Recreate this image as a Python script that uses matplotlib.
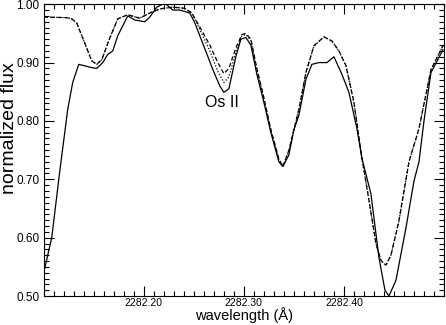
import numpy as np
import matplotlib
matplotlib.use('Agg')  # noqa
import matplotlib.pyplot as plt
from matplotlib.ticker import MultipleLocator, FormatStrFormatter

# observed spectrum (solid)
obs_wl = [2282.100, 2282.101, 2282.108, 2282.116, 2282.124, 2282.129, 2282.135,
          2282.149, 2282.153, 2282.159, 2282.164, 2282.169, 2282.174, 2282.184,
          2282.191, 2282.201, 2282.206, 2282.213, 2282.221, 2282.229, 2282.236,
          2282.246, 2282.251, 2282.263, 2282.269, 2282.276, 2282.280, 2282.285,
          2282.292, 2282.297, 2282.302, 2282.307, 2282.313, 2282.320, 2282.327,
          2282.335, 2282.339, 2282.345, 2282.350, 2282.355, 2282.362, 2282.368,
          2282.375, 2282.383, 2282.390, 2282.398, 2282.405, 2282.413, 2282.418,
          2282.427, 2282.435, 2282.441, 2282.445, 2282.452, 2282.462, 2282.470,
          2282.475, 2282.480, 2282.487, 2282.499]
obs_flux = [0.545, 0.547, 0.600, 0.713, 0.820, 0.866, 0.897,
            0.891, 0.890, 0.900, 0.914, 0.920, 0.946, 0.980,
            0.973, 0.970, 0.978, 0.995, 1.002, 0.990, 0.990,
            0.985, 0.968, 0.915, 0.888, 0.860, 0.849, 0.855,
            0.910, 0.940, 0.943, 0.930, 0.880, 0.832, 0.780,
            0.730, 0.722, 0.742, 0.785, 0.810, 0.871, 0.897,
            0.900, 0.900, 0.910, 0.880, 0.849, 0.787, 0.736,
            0.675, 0.566, 0.510, 0.500, 0.527, 0.617, 0.697,
            0.730, 0.800, 0.883, 0.922]

# synthetic spectra: without Os (dashed) and with Os (dotted)
syn_wl = [2282.100, 2282.123, 2282.128, 2282.133, 2282.139, 2282.148, 2282.153,
          2282.158, 2282.166, 2282.174, 2282.184, 2282.196, 2282.206, 2282.216,
          2282.229, 2282.241, 2282.248, 2282.253, 2282.266, 2282.274, 2282.280,
          2282.285, 2282.292, 2282.298, 2282.302, 2282.307, 2282.313, 2282.320,
          2282.327, 2282.335, 2282.339, 2282.345, 2282.355, 2282.362, 2282.370,
          2282.380, 2282.388, 2282.395, 2282.402, 2282.410, 2282.418, 2282.424,
          2282.432, 2282.437, 2282.442, 2282.447, 2282.455, 2282.465, 2282.475,
          2282.487, 2282.499]
nos_flux = [0.978, 0.977, 0.975, 0.968, 0.942, 0.903, 0.897,
            0.905, 0.942, 0.975, 0.982, 0.976, 0.985, 0.992,
            0.995, 0.993, 0.985, 0.970, 0.930, 0.900, 0.881,
            0.890, 0.925, 0.948, 0.950, 0.940, 0.890, 0.840,
            0.785, 0.735, 0.722, 0.750, 0.820, 0.883, 0.929,
            0.944, 0.937, 0.920, 0.895, 0.832, 0.736, 0.675,
            0.590, 0.561, 0.553, 0.570, 0.629, 0.730, 0.787,
            0.888, 0.929]
os_flux = [0.978, 0.977, 0.975, 0.968, 0.942, 0.903, 0.897,
           0.905, 0.942, 0.975, 0.982, 0.976, 0.985, 0.992,
           0.995, 0.993, 0.985, 0.968, 0.920, 0.885, 0.866,
           0.875, 0.918, 0.946, 0.948, 0.938, 0.888, 0.838,
           0.784, 0.734, 0.722, 0.749, 0.819, 0.882, 0.928,
           0.944, 0.937, 0.920, 0.895, 0.832, 0.736, 0.675,
           0.590, 0.561, 0.553, 0.570, 0.629, 0.730, 0.787,
           0.888, 0.929]

plt.rcParams['font.family'] = ['Liberation Sans', 'DejaVu Sans']

fig = plt.figure(figsize=(4.46, 3.25), dpi=100)
ax = fig.add_axes([0.098, 0.089, 0.8975, 0.898])

ax.plot(obs_wl, obs_flux, color='black', lw=0.9, ls='-')
ax.plot(syn_wl, nos_flux, color='black', lw=0.9, ls=(0, (3.5, 2)))
ax.plot(syn_wl, os_flux, color='black', lw=0.9, ls=(0, (1, 1.5)))

ax.text(2282.2777, 0.832, 'Os II', fontsize=11.5, ha='center', va='center')

ax.set_xlim(2282.10, 2282.50)
ax.set_ylim(0.50, 1.00)
ax.set_xticks([2282.20, 2282.30, 2282.40])
ax.xaxis.set_minor_locator(MultipleLocator(0.01))
ax.yaxis.set_major_locator(MultipleLocator(0.10))
ax.yaxis.set_minor_locator(MultipleLocator(0.01))
ax.xaxis.set_major_formatter(FormatStrFormatter('%.2f'))
ax.yaxis.set_major_formatter(FormatStrFormatter('%.2f'))
ax.tick_params(which='both', direction='in', top=True, right=True,
               labelsize=8.5, width=0.8, pad=3)
ax.tick_params(axis='x', labelsize=7.5, pad=1.5)
ax.tick_params(which='major', length=7)
ax.tick_params(which='minor', length=3.5)
for s in ax.spines.values():
    s.set_linewidth(0.8)

ax.set_xlabel('wavelength (Å)', fontsize=10.5)
ax.xaxis.set_label_coords(0.5, -0.0925, transform=ax.transAxes)
ax.xaxis.label.set_va('bottom')
ax.set_ylabel('normalized flux', fontsize=14)
ax.yaxis.set_label_coords(-0.085, 0.575, transform=ax.transAxes)
ax.yaxis.label.set_va('center')

plt.savefig('out.png', dpi=100)
